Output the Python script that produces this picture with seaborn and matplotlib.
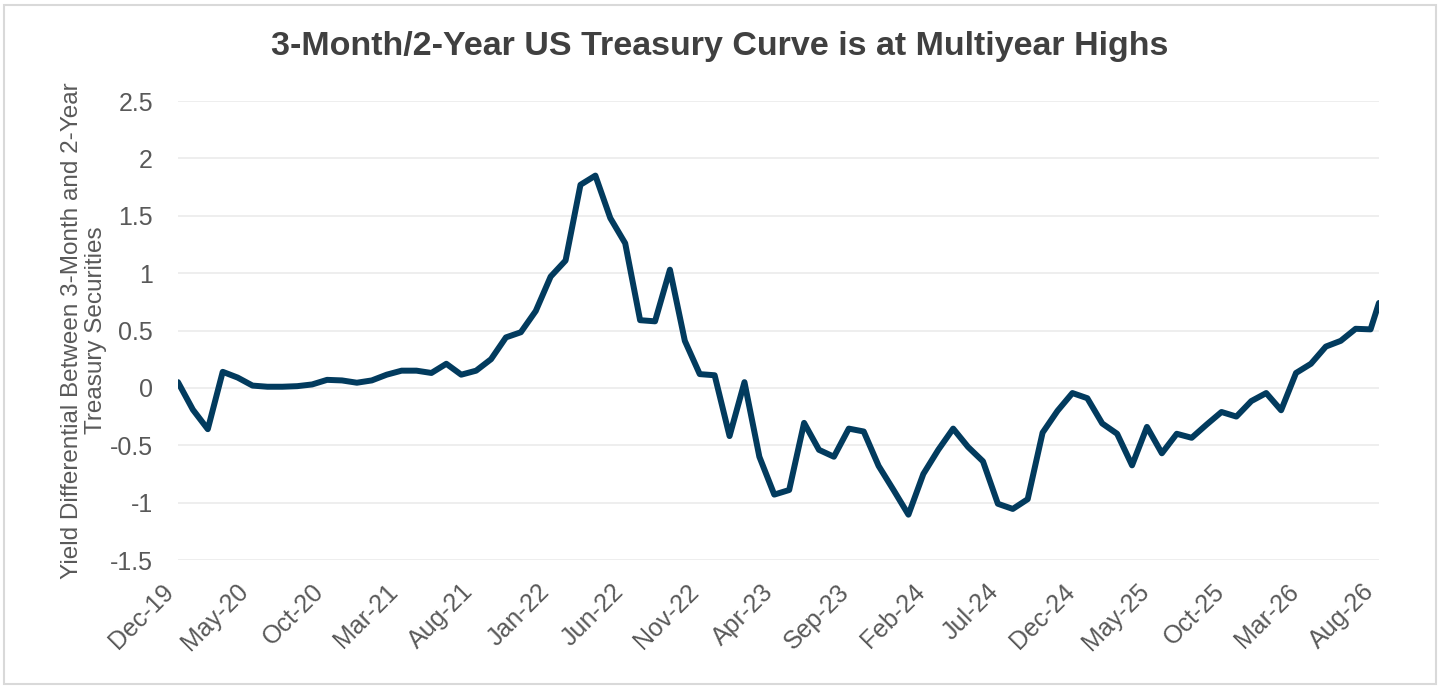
import numpy as np
import pandas as pd
import matplotlib.pyplot as plt
import seaborn as sns
from matplotlib.patches import Rectangle

# ── Data ──────────────────────────────────────────────────────────────────────
# monthly observations (last one is a partial month)
obs_dates = list(pd.date_range("2019-12-01", "2026-07-15", periods=81)) + [pd.Timestamp("2026-08-01")]

spread = [
    0.05, -0.19, -0.36, 0.14, 0.09, 0.02, 0.01, 0.01, 0.015, 0.03,
    0.07, 0.065, 0.045, 0.065, 0.115, 0.15, 0.15, 0.13, 0.21, 0.115,
    0.15, 0.25, 0.44, 0.485, 0.67, 0.97, 1.11, 1.77, 1.85, 1.48,
    1.26, 0.59, 0.58, 1.03, 0.41, 0.12, 0.11, -0.42, 0.05, -0.60,
    -0.93, -0.89, -0.305, -0.54, -0.60, -0.355, -0.38, -0.68, -0.89, -1.105,
    -0.75, -0.54, -0.355, -0.515, -0.64, -1.01, -1.055, -0.97, -0.39, -0.20,
    -0.045, -0.09, -0.31, -0.40, -0.675, -0.34, -0.57, -0.40, -0.435, -0.32,
    -0.21, -0.25, -0.115, -0.045, -0.195, 0.13, 0.21, 0.36, 0.41, 0.515,
    0.51, 0.74,
]

tick_dates = pd.date_range("2019-12-01", "2026-08-01", freq="5MS")
tick_labels = ["Dec-19", "May-20", "Oct-20", "Mar-21", "Aug-21", "Jan-22",
               "Jun-22", "Nov-22", "Apr-23", "Sep-23", "Feb-24", "Jul-24",
               "Dec-24", "May-25", "Oct-25", "Mar-26", "Aug-26"]
y_ticks = [2.5, 2, 1.5, 1, 0.5, 0, -0.5, -1, -1.5]
y_tick_labels = ["2.5", "2", "1.5", "1", "0.5", "0", "-0.5", "-1", "-1.5"]

LINE_COLOUR = "#023B5E"
TEXT_GREY = "#595959"

df = pd.DataFrame({"date": obs_dates, "spread": spread})

sns.set_theme(style="white")
plt.rcParams["font.family"] = ["Liberation Sans", "DejaVu Sans"]

fig, ax = plt.subplots(figsize=(14.4, 6.9), dpi=100)
fig.subplots_adjust(left=0.1236, right=0.9576, top=0.8536, bottom=0.1884)

sns.lineplot(data=df, x="date", y="spread", ax=ax,
             color=LINE_COLOUR, linewidth=4.3, solid_joinstyle="round",
             solid_capstyle="round")

ax.set_ylim(-1.5, 2.5)
ax.set_xlim(tick_dates[0], tick_dates[-1])
ax.set_yticks(y_ticks)
ax.set_yticklabels(y_tick_labels, fontsize=18, color=TEXT_GREY)
ax.set_xticks(tick_dates)
ax.set_xticklabels(tick_labels, fontsize=18, color=TEXT_GREY,
                   rotation=45, ha="right")
ax.tick_params(axis="both", length=0)
ax.tick_params(axis="y", pad=18)
ax.tick_params(axis="x", pad=14)

for y in y_ticks:
    ax.axhline(y, color="#EDEDED", linewidth=1.3, zorder=0)

for side in ("top", "right", "left", "bottom"):
    ax.spines[side].set_visible(False)

ax.set_xlabel("")
ax.set_ylabel("Yield Differential Between 3-Month and 2-Year\nTreasury Securities",
              fontsize=17.5, color=TEXT_GREY, labelpad=2, linespacing=1.12)

fig.text(0.5, 0.933, "3-Month/2-Year US Treasury Curve is at Multiyear Highs",
         ha="center", va="center", fontsize=24.5, fontweight="bold",
         color="#404040")

fig.patches.append(Rectangle((0.0025, 0.008), 0.9945, 0.985,
                             transform=fig.transFigure, fill=False,
                             edgecolor="#D9D9D9", linewidth=1.5))

fig.savefig("out.png", dpi=100)
plt.close(fig)
